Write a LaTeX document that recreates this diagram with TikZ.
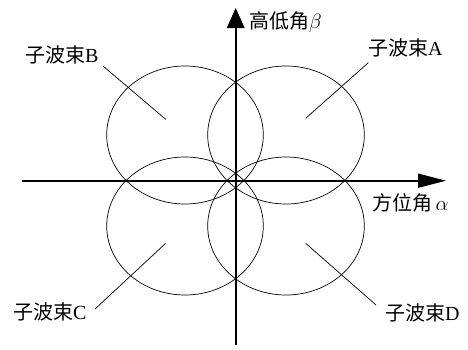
\documentclass[tikz,border=0pt]{standalone}
\usepackage{fontspec}
\setmainfont{Liberation Serif}
\newfontfamily\cjk{Noto Sans CJK SC}
\usetikzlibrary{arrows.meta,shapes.geometric}
\begin{document}
\begin{tikzpicture}[x=1bp,y=-1bp]
\tikzset{
  beam/.style={draw, ellipse, line width=0.7bp, inner sep=0pt,
    minimum width=156.6bp, minimum height=138bp},
  axisline/.style={line width=1.6bp},
  lbl/.style={inner sep=0pt, anchor=west, font=\fontsize{20bp}{20bp}\selectfont},
  lead/.style={line width=0.7bp}
}
\useasboundingbox (0,0) rectangle (468,349);
\fill[white] (0,0) rectangle (468,349);
% beams
\node[beam] (A) at (286,135) {};
\node[beam] (B) at (185,135) {};
\node[beam] (C) at (185,226) {};
\node[beam] (D) at (286,226) {};
% axes
\coordinate (xs) at (22,180.7);
\coordinate (xe) at (446,180.7);
\coordinate (ys) at (235.7,345);
\coordinate (ye) at (235.7,8);
\draw[axisline, -{Triangle[length=28bp,width=14bp]}] (xs) -- (xe);
\draw[axisline, -{Triangle[length=20bp,width=17.6bp]}] (ys) -- (ye);
% labels
\node[lbl] (lA) at (368,48) {{\cjk 子波束}A};
\node[lbl] (lB) at (25,55) {{\cjk 子波束}B};
\node[lbl] (lC) at (13,312) {{\cjk 子波束}C};
\node[lbl] (lD) at (385,313) {{\cjk 子波束}D};
\node[lbl] (lx) at (372,203) {{\cjk 方位角}\,$\alpha$};
\node[lbl] (ly) at (249,22) {{\cjk 高低角}$\beta$};
% leaders
\coordinate (bA) at (368.3,62.7); \coordinate (eA) at (305.7,118.3);
\coordinate (bB) at (103,66);     \coordinate (eB) at (165.7,119.3);
\coordinate (bC) at (95,309);     \coordinate (eC) at (165.7,243.3);
\coordinate (bD) at (376,305);    \coordinate (eD) at (305.7,243.3);
\draw[lead] (bA) -- (eA);
\draw[lead] (bB) -- (eB);
\draw[lead] (bC) -- (eC);
\draw[lead] (bD) -- (eD);
\end{tikzpicture}
\end{document}
